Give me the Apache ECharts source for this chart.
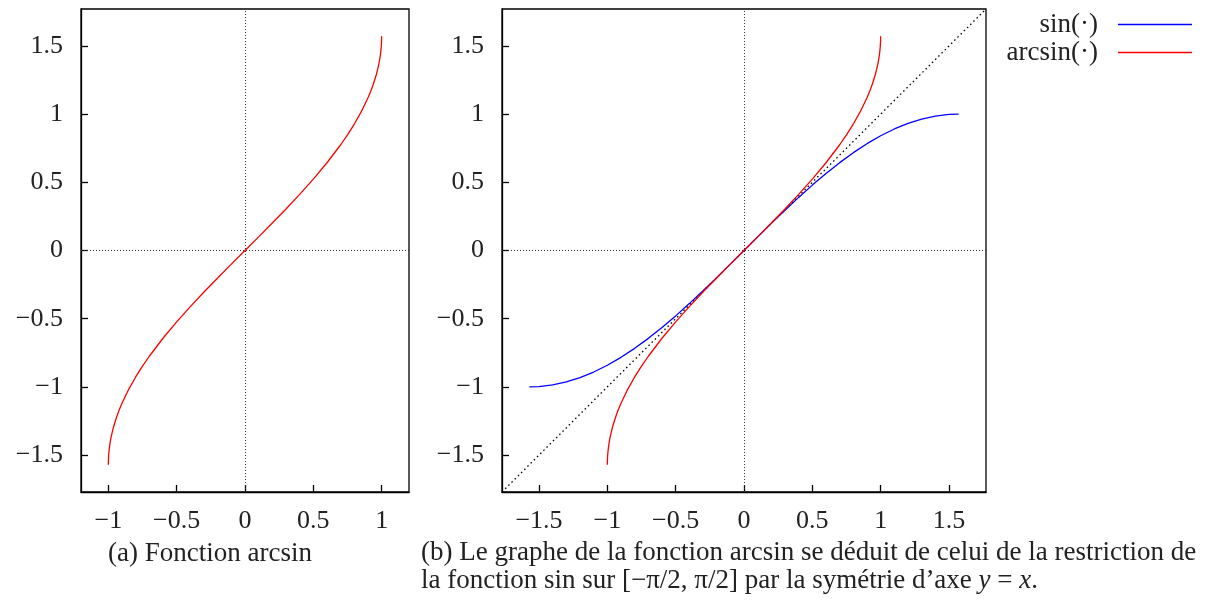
<!DOCTYPE html>
<html>
<head>
<meta charset="utf-8">
<script src="https://cdn.jsdelivr.net/npm/echarts@6/dist/echarts.min.js"></script>
<style>
  html, body { margin: 0; padding: 0; background: #fff; }
  #chart { width: 1209px; height: 601px; }
</style>
</head>
<body>
<div id="chart"></div>
<script>
// arcsin sur [-1, 1]
var arcsinX = [-1, -0.9995, -0.998, -0.995, -0.99, -0.985, -0.98, -0.97, -0.96, -0.94, -0.92, -0.9, -0.85, -0.8, -0.75, -0.7, -0.6, -0.5, -0.4, -0.3, -0.2, -0.1,
  0, 0.1, 0.2, 0.3, 0.4, 0.5, 0.6, 0.7, 0.75, 0.8, 0.85, 0.9, 0.92, 0.94, 0.96, 0.97, 0.98, 0.985, 0.99, 0.995, 0.998, 0.9995, 1]
var arcsinY = [-1.5708, -1.5392, -1.5075, -1.4706, -1.4293, -1.3974, -1.3705, -1.3258, -1.2870, -1.2226, -1.1681, -1.1198, -1.0160, -0.9273, -0.8481, -0.7754, -0.6435, -0.5236, -0.4115, -0.3047, -0.2014, -0.1002,
  0, 0.1002, 0.2014, 0.3047, 0.4115, 0.5236, 0.6435, 0.7754, 0.8481, 0.9273, 1.0160, 1.1198, 1.1681, 1.2226, 1.2870, 1.3258, 1.3705, 1.3974, 1.4293, 1.4706, 1.5075, 1.5392, 1.5708]
// sin sur [-pi/2, pi/2]
var sinX = [-1.5708, -1.5, -1.4, -1.3, -1.2, -1.1, -1.0, -0.9, -0.8, -0.7, -0.6, -0.5, -0.4, -0.3, -0.2, -0.1,
  0, 0.1, 0.2, 0.3, 0.4, 0.5, 0.6, 0.7, 0.8, 0.9, 1.0, 1.1, 1.2, 1.3, 1.4, 1.5, 1.5708]
var sinY = [-1, -0.9975, -0.9854, -0.9636, -0.9320, -0.8912, -0.8415, -0.7833, -0.7174, -0.6442, -0.5646, -0.4794, -0.3894, -0.2955, -0.1987, -0.0998,
  0, 0.0998, 0.1987, 0.2955, 0.3894, 0.4794, 0.5646, 0.6442, 0.7174, 0.7833, 0.8415, 0.8912, 0.9320, 0.9636, 0.9854, 0.9975, 1]
// droite y = x
var diagX = [-1.7708, 1.7708]
var diagY = [-1.7708, 1.7708]

var ticksA = [-1, -0.5, 0, 0.5, 1]
var ticksB = [-1.5, -1, -0.5, 0, 0.5, 1, 1.5]
var ticksY = [-1.5, -1, -0.5, 0, 0.5, 1, 1.5]

var captionA = '(a) Fonction arcsin'
var captionB = '(b) Le graphe de la fonction arcsin se déduit de celui de la restriction de\nla fonction sin sur [−π/2, π/2] par la symétrie d’axe {i|y} = {i|x}.'

var FONT = 'Liberation Serif'
var TICK_SIZE = 26
var TEXT_SIZE = 27

function zip(xs, ys) {
  return xs.map(function(x, i) { return [x, ys[i]] })
}
function fmt(v) {
  return String(v).replace('-', '−')
}

function xAxisFor(idx, min, max, ticks) {
  return {
    type: 'value', gridIndex: idx, min: min, max: max,
    axisLine: { show: true, onZero: false, lineStyle: { color: '#000', width: 1.3 } },
    axisTick: { show: true, inside: true, length: 7, customValues: ticks, lineStyle: { color: '#000', width: 1.3 } },
    axisLabel: { customValues: ticks, formatter: fmt, color: '#222', fontFamily: FONT, fontSize: TICK_SIZE, margin: 16 },
    splitLine: { show: false }
  }
}
function yAxisFor(idx, ticks) {
  return {
    type: 'value', gridIndex: idx, min: -1.7708, max: 1.7708,
    axisLine: { show: true, onZero: false, lineStyle: { color: '#000', width: 1.3 } },
    axisTick: { show: true, inside: true, length: 7, customValues: ticks, lineStyle: { color: '#000', width: 1.3 } },
    axisLabel: { customValues: ticks, formatter: fmt, color: '#222', fontFamily: FONT, fontSize: TICK_SIZE, margin: 18 },
    splitLine: { show: false }
  }
}

var zeroLines = {
  silent: true,
  symbol: 'none',
  label: { show: false },
  lineStyle: { color: '#333', type: [1, 2], width: 1 },
  data: [{ xAxis: 0 }, { yAxis: 0 }]
}

function legendFor(name, top) {
  return {
    data: [name], right: 17, top: top, padding: 0, align: 'right', icon: 'rect',
    itemWidth: 74, itemHeight: 1.5, itemGap: 0,
    textStyle: { fontFamily: FONT, fontSize: TEXT_SIZE, color: '#222', padding: [0, 15, 0, 0] }
  }
}

var chart = echarts.init(document.getElementById('chart'))
chart.setOption({
  animation: false,
  grid: [
    { left: 81, top: 9, width: 328, height: 483, show: true, borderColor: '#000', borderWidth: 1.3 },
    { left: 502, top: 9, width: 484, height: 483, show: true, borderColor: '#000', borderWidth: 1.3 }
  ],
  xAxis: [xAxisFor(0, -1.2, 1.2, ticksA), xAxisFor(1, -1.7708, 1.7708, ticksB)],
  yAxis: [yAxisFor(0, ticksY), yAxisFor(1, ticksY)],
  legend: [legendFor('sin(·)', 11), legendFor('arcsin(·)', 39)],
  title: [
    {
      text: captionA, left: 108, top: 540, padding: 0,
      textStyle: { fontFamily: FONT, fontSize: TEXT_SIZE, fontWeight: 'normal', color: '#222' }
    },
    {
      text: captionB, left: 421, top: 539, padding: 0,
      textStyle: {
        fontFamily: FONT, fontSize: TEXT_SIZE, fontWeight: 'normal', color: '#222', lineHeight: 28,
        rich: { i: { fontFamily: FONT, fontSize: TEXT_SIZE, fontStyle: 'italic', color: '#222', lineHeight: 28 } }
      }
    }
  ],
  series: [
    {
      name: 'arcsin(·)', type: 'line', xAxisIndex: 0, yAxisIndex: 0,
      data: zip(arcsinX, arcsinY), showSymbol: false, symbol: 'none',
      lineStyle: { color: '#ff0000', width: 1.3 }, itemStyle: { color: '#ff0000' },
      markLine: zeroLines, z: 3
    },
    {
      name: 'y=x', type: 'line', xAxisIndex: 1, yAxisIndex: 1,
      data: zip(diagX, diagY), showSymbol: false, symbol: 'none',
      lineStyle: { color: '#000', width: 1.3, type: [1.5, 3] },
      markLine: zeroLines, z: 2
    },
    {
      name: 'sin(·)', type: 'line', xAxisIndex: 1, yAxisIndex: 1,
      data: zip(sinX, sinY), showSymbol: false, symbol: 'none',
      lineStyle: { color: '#0000ff', width: 1.3 }, itemStyle: { color: '#0000ff' }, z: 3
    },
    {
      name: 'arcsin(·)', type: 'line', xAxisIndex: 1, yAxisIndex: 1,
      data: zip(arcsinX, arcsinY), showSymbol: false, symbol: 'none',
      lineStyle: { color: '#ff0000', width: 1.3 }, itemStyle: { color: '#ff0000' }, z: 4
    }
  ]
})
</script>
</body>
</html>
